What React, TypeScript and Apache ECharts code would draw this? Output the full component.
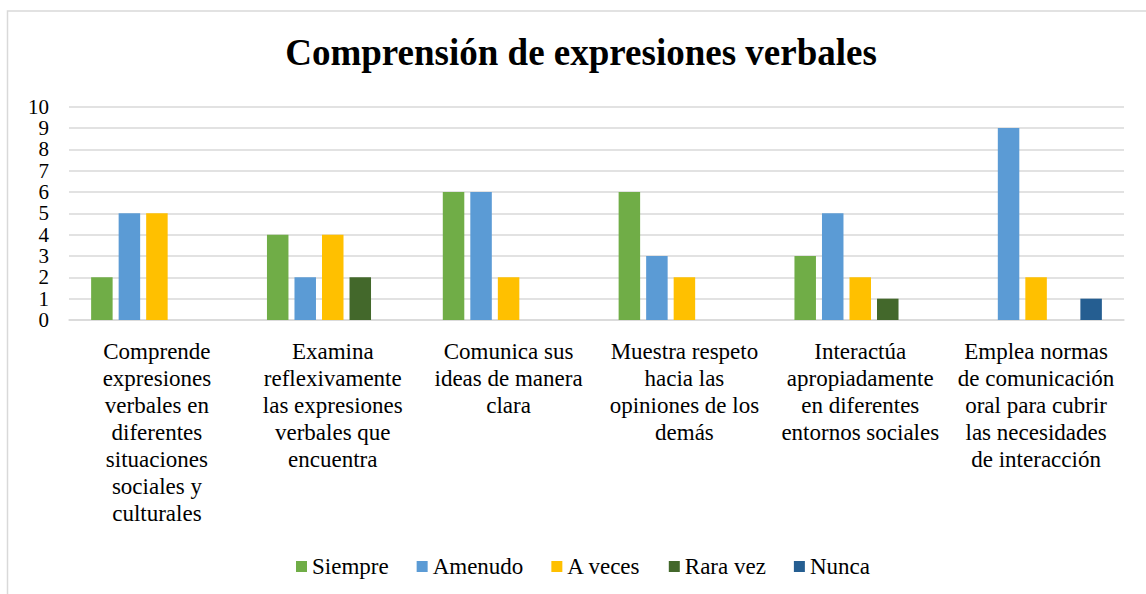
import React, { useEffect, useRef } from "react";
import * as echarts from "echarts";

const categories = [
  "Comprende\nexpresiones\nverbales en\ndiferentes\nsituaciones\nsociales y\nculturales",
  "Examina\nreflexivamente\nlas expresiones\nverbales que\nencuentra",
  "Comunica sus\nideas de manera\nclara",
  "Muestra respeto\nhacia las\nopiniones de los\ndemás",
  "Interactúa\napropiadamente\nen diferentes\nentornos sociales",
  "Emplea normas\nde comunicación\noral para cubrir\nlas necesidades\nde interacción",
];

const seriesNames = ["Siempre", "Amenudo", "A veces", "Rara vez", "Nunca"];
const siempre = [2, 4, 6, 6, 3, 0];
const amenudo = [5, 2, 6, 3, 5, 9];
const aVeces = [5, 4, 2, 2, 2, 2];
const raraVez = [0, 2, 0, 0, 1, 0];
const nunca = [0, 0, 0, 0, 0, 1];
const seriesValues = [siempre, amenudo, aVeces, raraVez, nunca];
const colors = ["#70AD47", "#5B9BD5", "#FFC000", "#43682B", "#255E91"];

const title = "Comprensión de expresiones verbales";
const FONT = "Liberation Serif, serif";

export default function App() {
  const ref = useRef<HTMLDivElement>(null);
  useEffect(() => {
    if (!ref.current) return;
    const chart = echarts.init(ref.current, null, { renderer: "svg" });
    chart.setOption({
      animation: false,
      backgroundColor: "#ffffff",
      textStyle: { fontFamily: FONT, fontWeight: "normal" },
      title: {
        text: title,
        left: 576,
        top: 29,
        textAlign: "center",
        textStyle: { fontFamily: FONT, fontSize: 37, fontWeight: "bold", color: "#000" },
      },
      graphic: [
        {
          type: "rect",
          shape: { x: 7.5, y: 11, width: 1300, height: 800 },
          style: { fill: "none", stroke: "#D9D9D9", lineWidth: 1.5 },
          silent: true,
        },
      ],
      legend: {
        data: seriesNames,
        left: 291,
        top: 550,
        itemWidth: 11,
        itemHeight: 11,
        itemGap: 28,
        icon: "rect",
        textStyle: { fontFamily: FONT, fontWeight: "normal", fontSize: 23, color: "#000" },
      },
      grid: { left: 69, right: 22, top: 106.7, bottom: 274, containLabel: false },
      xAxis: {
        type: "category",
        data: categories,
        axisLine: { lineStyle: { color: "#D9D9D9", width: 1.5 } },
        axisTick: { show: false },
        axisLabel: {
          interval: 0,
          fontFamily: FONT,
          fontWeight: "normal",
          fontSize: 23,
          lineHeight: 27,
          color: "#000",
          margin: 18,
          align: "center",
        },
      },
      yAxis: {
        type: "value",
        min: 0,
        max: 10,
        interval: 1,
        axisLine: { show: false },
        axisTick: { show: false },
        splitLine: { lineStyle: { color: "#D9D9D9", width: 1.5 } },
        axisLabel: {
          fontFamily: FONT,
          fontWeight: "normal",
          fontSize: 21,
          color: "#000",
          margin: 20,
          showMinLabel: true,
          showMaxLabel: true,
          hideOverlap: false,
        },
      },
      series: seriesNames.map((name, i) => ({
        name,
        type: "bar",
        data: seriesValues[i],
        barWidth: 21.5,
        barGap: "28%",
        itemStyle: { color: colors[i] },
      })),
    });
    return () => chart.dispose();
  }, []);
  return (
    <div
      ref={ref}
      style={{ position: "absolute", left: 0, top: 0, width: 1146, height: 594 }}
    />
  );
}
